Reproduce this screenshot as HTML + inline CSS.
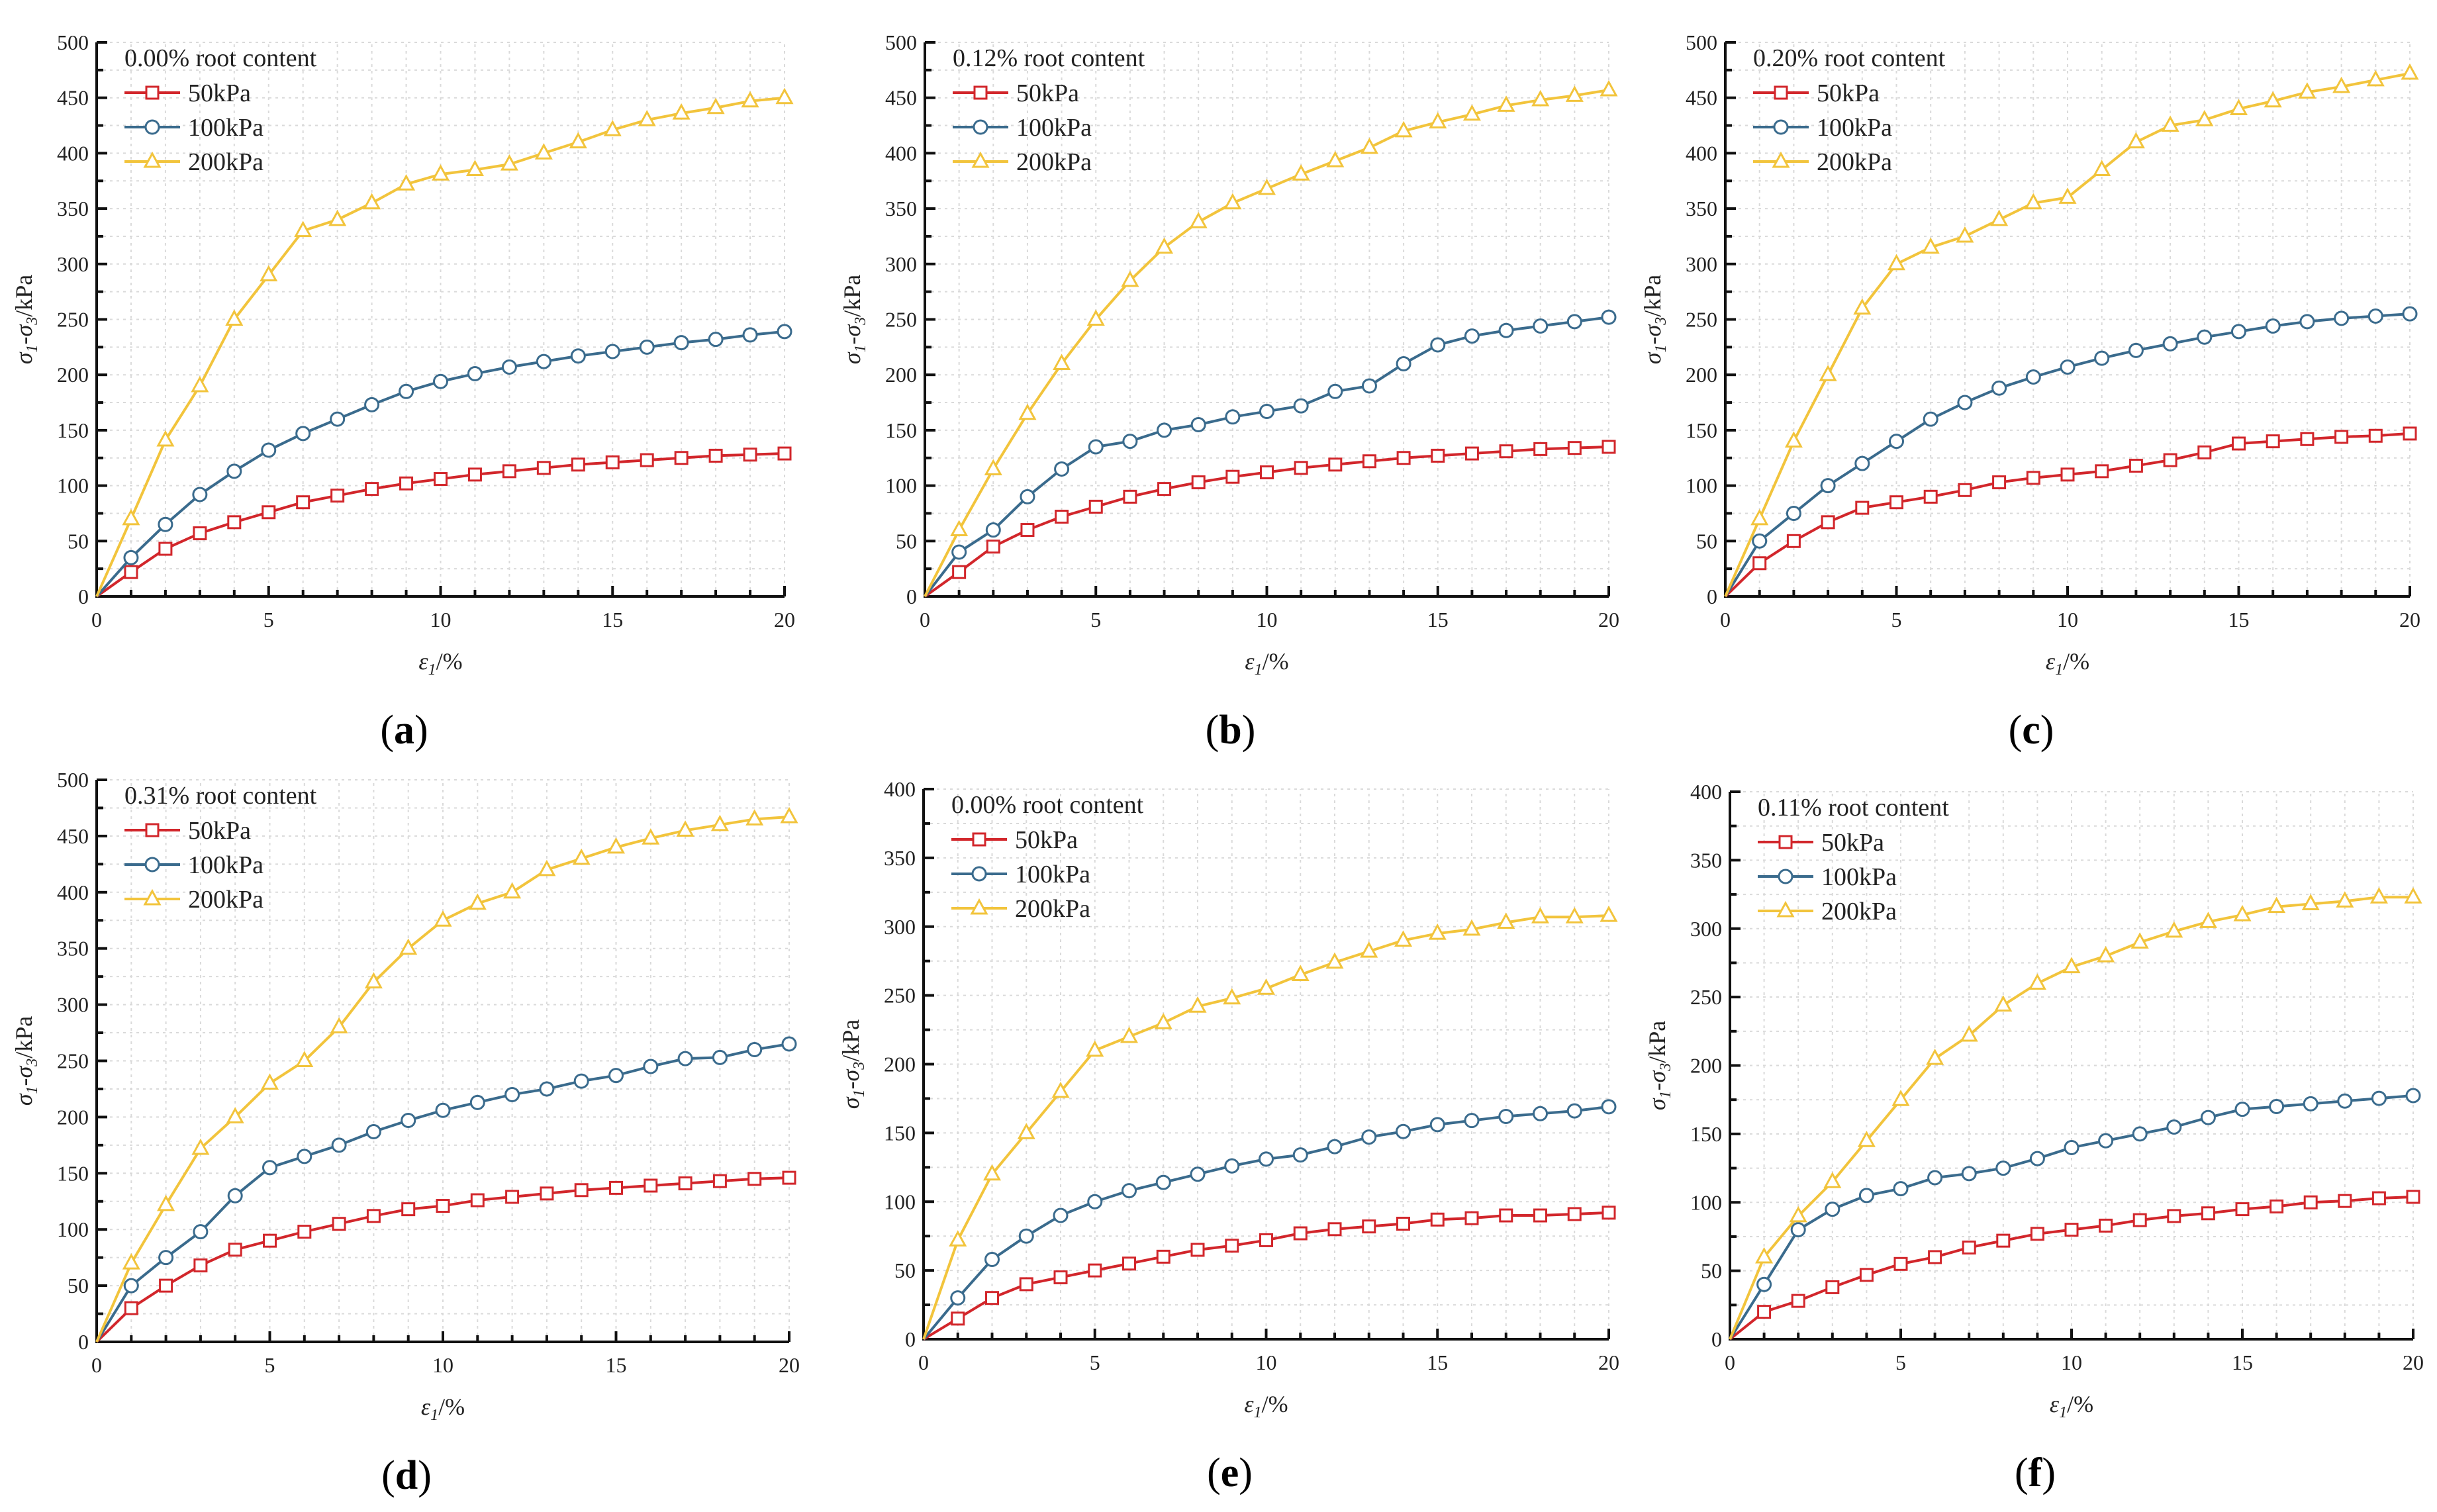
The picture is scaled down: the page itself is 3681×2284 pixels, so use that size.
<!DOCTYPE html>
<html><head><meta charset="utf-8">
<style>
html,body{margin:0;padding:0;background:#fff;}
svg{display:block;}
</style></head>
<body>
<svg id="fig" width="3681" height="2284" viewBox="0 0 3681 2284" xmlns="http://www.w3.org/2000/svg" font-family="'Liberation Serif', serif"></svg>
<script>
const strainCategories = [0,1,2,3,4,5,6,7,8,9,10,11,12,13,14,15,16,17,18,19,20];
const seriesNames = ['50kPa','100kPa','200kPa'];
const panelTitles = ['0.00% root content','0.12% root content','0.20% root content','0.31% root content','0.00% root content','0.11% root content'];
const panelLabels = ['a','b','c','d','e','f'];
const yMaxValues = [500,500,500,500,400,400];
const xTickLabels = [0,5,10,15,20];

const a50 = [0,22,43,57,67,76,85,91,97,102,106,110,113,116,119,121,123,125,127,128,129];
const a100 = [0,35,65,92,113,132,147,160,173,185,194,201,207,212,217,221,225,229,232,236,239];
const a200 = [0,70,141,190,250,290,330,340,355,372,381,385,390,400,410,421,430,436,441,447,450];
const b50 = [0,22,45,60,72,81,90,97,103,108,112,116,119,122,125,127,129,131,133,134,135];
const b100 = [0,40,60,90,115,135,140,150,155,162,167,172,185,190,210,227,235,240,244,248,252];
const b200 = [0,60,115,165,210,250,285,315,338,355,368,381,393,405,420,428,435,443,448,452,457];
const c50 = [0,30,50,67,80,85,90,96,103,107,110,113,118,123,130,138,140,142,144,145,147];
const c100 = [0,50,75,100,120,140,160,175,188,198,207,215,222,228,234,239,244,248,251,253,255];
const c200 = [0,70,140,200,260,300,315,325,340,355,360,385,410,425,430,440,447,455,460,466,472];
const d50 = [0,30,50,68,82,90,98,105,112,118,121,126,129,132,135,137,139,141,143,145,146];
const d100 = [0,50,75,98,130,155,165,175,187,197,206,213,220,225,232,237,245,252,253,260,265];
const d200 = [0,70,122,172,200,230,250,280,320,350,375,390,400,420,430,440,448,455,460,465,467];
const e50 = [0,15,30,40,45,50,55,60,65,68,72,77,80,82,84,87,88,90,90,91,92];
const e100 = [0,30,58,75,90,100,108,114,120,126,131,134,140,147,151,156,159,162,164,166,169];
const e200 = [0,72,120,150,180,210,220,230,242,248,255,265,274,282,290,295,298,303,307,307,308];
const f50 = [0,20,28,38,47,55,60,67,72,77,80,83,87,90,92,95,97,100,101,103,104];
const f100 = [0,40,80,95,105,110,118,121,125,132,140,145,150,155,162,168,170,172,174,176,178];
const f200 = [0,60,90,115,145,175,205,222,244,260,272,280,290,298,305,310,316,318,320,323,323];

const panelData = [[a50,a100,a200],[b50,b100,b200],[c50,c100,c200],[d50,d100,d200],[e50,e100,e200],[f50,f100,f200]];

const layout = [
  {x0:146,x1:1185,y0:901,y1:64},
  {x0:1397,x1:2430,y0:901,y1:64},
  {x0:2606,x1:3640,y0:901,y1:64},
  {x0:146,x1:1192,y0:2027,y1:1178},
  {x0:1395,x1:2430,y0:2023,y1:1192},
  {x0:2613,x1:3645,y0:2023,y1:1196}
];
const colors = ['#d2262b','#3a6b8d','#f2c43c'];
const markers = ['square','circle','triangle'];
const NS = 'http://www.w3.org/2000/svg';
const svg = document.getElementById('fig');
function mk(tag, attrs, parent){
  const e = document.createElementNS(NS, tag);
  for (const k in attrs) e.setAttribute(k, attrs[k]);
  (parent||svg).appendChild(e);
  return e;
}
function marker(kind, cx, yy, col, parent){
  if (kind==='square') return mk('rect',{x:cx-9,y:yy-9,width:18,height:18,fill:'#fff',stroke:col,'stroke-width':3},parent);
  if (kind==='circle') return mk('circle',{cx:cx,cy:yy,r:10,fill:'#fff',stroke:col,'stroke-width':3},parent);
  return mk('polygon',{points:cx+','+(yy-12)+' '+(cx-11)+','+(yy+8)+' '+(cx+11)+','+(yy+8),fill:'#fff',stroke:col,'stroke-width':3},parent);
}

panelData.forEach((series, p) => {
  const L = layout[p];
  const ymax = yMaxValues[p];
  const sx = v => L.x0 + v / 20 * (L.x1 - L.x0);
  const sy = v => L.y0 - v / ymax * (L.y0 - L.y1);
  const g = mk('g', {});
  
  

  const grid = mk('g', {stroke:'#dadada','stroke-width':2,'stroke-dasharray':'4,6'}, g);
  
  
  for (let i = 1; i <= 20; i++) mk('line', {x1:sx(i),x2:sx(i),y1:L.y0,y2:L.y1}, grid);
  for (let v = 25; v <= ymax; v += 25) mk('line', {x1:L.x0,x2:L.x1,y1:sy(v),y2:sy(v)}, grid);

  const ax = mk('g', {stroke:'#111','stroke-width':4}, g);
  
  
  mk('line', {x1:L.x0,x2:L.x0,y1:L.y0+2,y2:L.y1}, ax);
  mk('line', {x1:L.x0-2,x2:L.x1,y1:L.y0,y2:L.y0}, ax);
  for (let i = 0; i <= 20; i++) mk('line', {x1:sx(i),x2:sx(i),y1:L.y0,y2:L.y0-(i%5===0?16:10)}, ax);
  for (let v = 0; v <= ymax; v += 25) mk('line', {x1:L.x0,x2:L.x0+(v%50===0?16:10),y1:sy(v),y2:sy(v)}, ax);

  xTickLabels.forEach(t => {
    const tx = mk('text', {x:sx(t), y:L.y0+46, 'font-size':32, 'text-anchor':'middle', fill:'#222'}, g);
    
    
    tx.textContent = t;
  });
  for (let v = 0; v <= ymax; v += 50) {
    const ty = mk('text', {x:L.x0-12, y:sy(v)+11, 'font-size':32, 'text-anchor':'end', fill:'#222'}, g);
    
    
    ty.textContent = v;
  }

  const xt = mk('text', {x:(L.x0+L.x1)/2, y:L.y0+110, 'font-size':36, 'text-anchor':'middle', fill:'#222'}, g);
  
  
  xt.innerHTML = '<tspan font-style="italic">ε</tspan><tspan font-style="italic" font-size="24" dy="8">1</tspan><tspan dy="-8">/%</tspan>';
  const cy = (L.y0+L.y1)/2;
  const yt = mk('text', {x:0, y:0, 'font-size':36, 'text-anchor':'middle', fill:'#222', transform:'translate('+(L.x0-98)+','+cy+') rotate(-90)'}, g);
  
  
  yt.innerHTML = '<tspan font-style="italic">σ</tspan><tspan font-style="italic" font-size="24" dy="8">1</tspan><tspan dy="-8">-</tspan><tspan font-style="italic">σ</tspan><tspan font-style="italic" font-size="24" dy="8">3</tspan><tspan dy="-8">/kPa</tspan>';

  const pl = mk('text', {x:(L.x0+L.x1)/2-55, y:L.y0+222, 'font-size':62, 'text-anchor':'middle', fill:'#000'}, g);
  
  
  pl.innerHTML = '(<tspan font-weight="bold">' + panelLabels[p] + '</tspan>)';

  series.forEach((vals, s) => {
    const sg = mk('g', {}, g);
    
    
    const pts = vals.map((v,i) => sx(strainCategories[i]) + ',' + sy(v)).join(' ');
    const pl2 = mk('polyline', {points:pts, fill:'none', stroke:colors[s], 'stroke-width':4}, sg);
    
    
    vals.forEach((v,i) => {
      if (i === 0) return;
      const m = marker(markers[s], sx(strainCategories[i]), sy(v), colors[s], sg);
      
      
    });
  });

  const lg = mk('g', {}, g);
  
  
  const lx = L.x0 + 42, ly = L.y1 + 36;
  const lt = mk('text', {x:lx, y:ly, 'font-size':38, fill:'#222'}, lg);
  
  
  lt.textContent = panelTitles[p];
  seriesNames.forEach((n, s) => {
    const ey = ly + 52*(s+1) - 12;
    const eg = mk('g', {}, lg);
    
    
    mk('line', {x1:lx, x2:lx+84, y1:ey, y2:ey, stroke:colors[s], 'stroke-width':4}, eg);
    marker(markers[s], lx+42, ey, colors[s], eg);
    const et = mk('text', {x:lx+96, y:ey+13, 'font-size':38, fill:'#222'}, eg);
    et.textContent = n;
  });
});
</script>
</body></html>
